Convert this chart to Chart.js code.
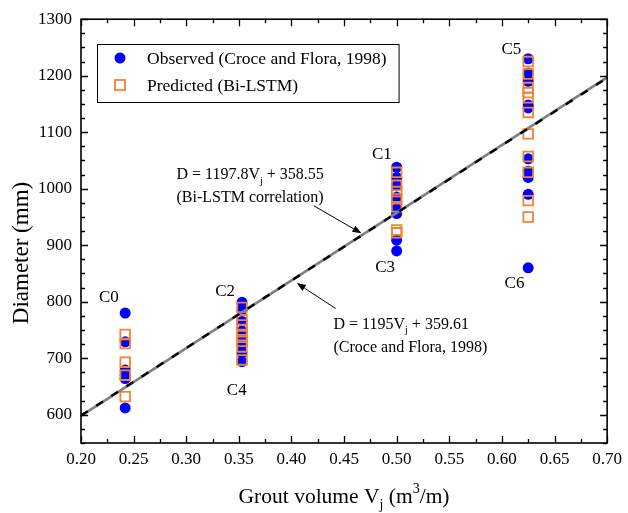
<!DOCTYPE html>
<html>
<head>
<meta charset="utf-8">
<script src="https://cdn.jsdelivr.net/npm/chart.js@4.4.1/dist/chart.umd.min.js"></script>
<style>
  html, body { margin: 0; padding: 0; background: #fff; }
  #wrap { position: relative; width: 628px; height: 513px; }
</style>
</head>
<body>
<div id="wrap"><canvas id="chart" width="628" height="513"></canvas></div>
<script>
// axis ticks
const xTicks = [0.20, 0.25, 0.30, 0.35, 0.40, 0.45, 0.50, 0.55, 0.60, 0.65, 0.70];
const yTicks = [600, 700, 800, 900, 1000, 1100, 1200, 1300];

// grout volume of each column of specimens
const columnX = [0.242, 0.353, 0.500, 0.625];

// observed diameters (Croce and Flora, 1998)
const observedC0 = [780, 729, 679, 670, 664, 612];
const observedC2C4 = [799, 785, 765, 748, 735, 722, 710, 694];
const observedC1C3 = [1038, 1020, 1005, 985, 965, 956, 909, 890];
const observedC5C6 = [1230, 1205, 1190, 1148, 1143, 1053, 1031, 1020, 990, 860];

// predicted diameters (Bi-LSTM)
const predictedC0 = [742, 726, 693, 670, 632];
const predictedC2C4 = [790, 768, 759, 750, 740, 730, 720, 697];
const predictedC1C3 = [1029, 1006, 995, 982, 968, 927, 922];
const predictedC5C6 = [1225, 1203, 1179, 1170, 1161, 1135, 1097, 1057, 1029, 979, 950];

// fitted lines, end points at the axis limits
const fitX = [0.2, 0.7];
const bilstmFitY = [598.1, 1197.0];
const croceFitY = [598.6, 1196.1];

const observedCols = [observedC0, observedC2C4, observedC1C3, observedC5C6];
const predictedCols = [predictedC0, predictedC2C4, predictedC1C3, predictedC5C6];

function toPoints(cols) {
    const pts = [];
    cols.forEach((col, i) => col.forEach(v => pts.push({ x: columnX[i], y: v })));
    return pts;
}

const SERIF = "'Liberation Serif', 'Times New Roman', serif";
Chart.defaults.font.family = SERIF;
Chart.defaults.color = '#000';

const groupLabels = [
    { text: 'C0', x: 0.2265, y: 807 },
    { text: 'C2', x: 0.337, y: 818 },
    { text: 'C4', x: 0.348, y: 642 },
    { text: 'C1', x: 0.486, y: 1060 },
    { text: 'C3', x: 0.489, y: 861 },
    { text: 'C5', x: 0.609, y: 1246 },
    { text: 'C6', x: 0.612, y: 833 }
];

const notes = [
    { x: 0.2907, y: 1024, lines: [
        [{ t: 'D = 1197.8V' }, { t: 'j', sub: true }, { t: ' + 358.55' }],
        [{ t: '(Bi-LSTM correlation)' }]
    ], arrow: [0.4212, 970, 0.4665, 921] },
    { x: 0.440, y: 760, lines: [
        [{ t: 'D = 1195V' }, { t: 'j', sub: true }, { t: ' + 359.61' }],
        [{ t: '(Croce and Flora, 1998)' }]
    ], arrow: [0.442, 788, 0.4051, 833] }
];

function drawRich(ctx, parts, x, y, size, align) {
    const small = Math.round(size * 0.65);
    let w = 0;
    parts.forEach(p => {
        ctx.font = (p.sub || p.sup ? small : size) + 'px ' + SERIF;
        w += ctx.measureText(p.t).width;
    });
    let cx = align === 'center' ? x - w / 2 : x;
    ctx.textAlign = 'left';
    ctx.textBaseline = 'middle';
    parts.forEach(p => {
        const s = p.sub || p.sup ? small : size;
        ctx.font = s + 'px ' + SERIF;
        const dy = p.sub ? size * 0.38 : p.sup ? -size * 0.35 : 0;
        ctx.fillText(p.t, cx, y + dy);
        cx += ctx.measureText(p.t).width;
    });
}

function arrow(ctx, x1, y1, x2, y2) {
    const ang = Math.atan2(y2 - y1, x2 - x1);
    const len = 9, half = 3.5;
    ctx.beginPath();
    ctx.moveTo(x1, y1);
    ctx.lineTo(x2 - Math.cos(ang) * len, y2 - Math.sin(ang) * len);
    ctx.stroke();
    ctx.beginPath();
    ctx.moveTo(x2, y2);
    ctx.lineTo(x2 - Math.cos(ang) * len - Math.sin(ang) * half, y2 - Math.sin(ang) * len + Math.cos(ang) * half);
    ctx.lineTo(x2 - Math.cos(ang) * len + Math.sin(ang) * half, y2 - Math.sin(ang) * len - Math.cos(ang) * half);
    ctx.closePath();
    ctx.fill();
}

const decor = {
    id: 'decor',
    afterDatasetsDraw(chart) {
        const { ctx, chartArea: a, scales: { x, y } } = chart;
        ctx.save();
        ctx.strokeStyle = '#000';
        ctx.fillStyle = '#000';

        // inward ticks on all four sides
        ctx.lineWidth = 1.3;
        ctx.beginPath();
        for (let i = 0; i <= 20; i++) {
            const px = Math.round(x.getPixelForValue(0.2 + i * 0.025)) + 0.5;
            const len = i % 2 === 0 ? 7 : 4;
            ctx.moveTo(px, a.bottom); ctx.lineTo(px, a.bottom - len);
            ctx.moveTo(px, a.top); ctx.lineTo(px, a.top + len);
        }
        for (let v = 550; v <= 1300; v += 25) {
            const py = Math.round(y.getPixelForValue(v)) + 0.5;
            const len = v % 100 === 0 ? 7 : 4;
            ctx.moveTo(a.left, py); ctx.lineTo(a.left + len, py);
            ctx.moveTo(a.right, py); ctx.lineTo(a.right - len, py);
        }
        ctx.stroke();

        // frame
        ctx.lineWidth = 1.6;
        ctx.strokeRect(a.left, a.top, a.right - a.left, a.bottom - a.top);

        // group labels
        ctx.font = '17px ' + SERIF;
        ctx.textAlign = 'center';
        ctx.textBaseline = 'middle';
        groupLabels.forEach(l => ctx.fillText(l.text, x.getPixelForValue(l.x), y.getPixelForValue(l.y)));

        // equations and arrows
        ctx.lineWidth = 1;
        notes.forEach(n => {
            const nx = x.getPixelForValue(n.x), ny = y.getPixelForValue(n.y);
            n.lines.forEach((ln, k) => drawRich(ctx, ln, nx, ny + k * 23, 16, 'left'));
            const [ax1, ay1, ax2, ay2] = n.arrow;
            arrow(ctx, x.getPixelForValue(ax1), y.getPixelForValue(ay1), x.getPixelForValue(ax2), y.getPixelForValue(ay2));
        });

        // legend
        const ds = chart.data.datasets;
        const items = [ds[3], ds[2]];
        const lx = 97, ly = 44, rowH = 27;
        ctx.font = '17.5px ' + SERIF;
        let tw = 0;
        items.forEach(d => { tw = Math.max(tw, ctx.measureText(d.label).width); });
        const bw = 50 + tw + 12, bh = 58;
        ctx.fillStyle = '#fff';
        ctx.fillRect(lx, ly, bw, bh);
        ctx.lineWidth = 1;
        ctx.strokeStyle = '#000';
        ctx.strokeRect(lx + 0.5, ly + 0.5, bw, bh);
        items.forEach((d, k) => {
            const cy = ly + 14 + k * rowH;
            const cx = lx + 23;
            if (d.pointStyle === 'rect') {
                ctx.strokeStyle = d.borderColor;
                ctx.lineWidth = d.borderWidth;
                ctx.strokeRect(cx - 5, cy - 5, 10, 10);
            } else {
                ctx.fillStyle = d.backgroundColor;
                ctx.beginPath();
                ctx.arc(cx, cy, d.pointRadius, 0, Math.PI * 2);
                ctx.fill();
            }
            ctx.fillStyle = '#000';
            ctx.textAlign = 'left';
            ctx.textBaseline = 'middle';
            ctx.font = '17.5px ' + SERIF;
            ctx.fillText(d.label, lx + 50, cy + 1);
        });

        // axis titles
        ctx.fillStyle = '#000';
        drawRich(ctx, [{ t: 'Grout volume V' }, { t: 'j', sub: true }, { t: ' (m' }, { t: '3', sup: true }, { t: '/m)' }],
            (a.left + a.right) / 2, 497, 21.5, 'center');
        ctx.save();
        ctx.translate(22, 253);
        ctx.rotate(-Math.PI / 2);
        drawRich(ctx, [{ t: 'Diameter (mm)' }], 0, 0, 23, 'center');
        ctx.restore();

        ctx.restore();
    }
};

new Chart(document.getElementById('chart'), {
    type: 'scatter',
    data: {
        datasets: [
            {
                label: 'D = 1195Vj + 359.61',
                type: 'line',
                data: fitX.map((v, i) => ({ x: v, y: croceFitY[i] })),
                borderColor: '#000',
                borderWidth: 2.4,
                borderDash: [8, 10],
                pointRadius: 0,
                fill: false
            },
            {
                label: 'D = 1197.8Vj + 358.55',
                type: 'line',
                data: fitX.map((v, i) => ({ x: v, y: bilstmFitY[i] })),
                borderColor: '#808080',
                borderWidth: 2.6,
                pointRadius: 0,
                fill: false
            },
            {
                label: 'Predicted (Bi-LSTM)',
                data: toPoints(predictedCols),
                pointStyle: 'rect',
                pointRadius: 6.8,
                borderColor: '#ef8534',
                borderWidth: 1.8,
                backgroundColor: 'rgba(0,0,0,0)'
            },
            {
                label: 'Observed (Croce and Flora, 1998)',
                data: toPoints(observedCols),
                pointStyle: 'circle',
                pointRadius: 5.5,
                borderWidth: 0,
                backgroundColor: '#0000ff'
            }
        ]
    },
    options: {
        responsive: false,
        animation: false,
        maintainAspectRatio: false,
        layout: { padding: { top: 16, right: 18, left: 0, bottom: 0 } },
        plugins: { legend: { display: false }, tooltip: { enabled: false } },
        scales: {
            x: {
                type: 'linear',
                min: 0.2,
                max: 0.7,
                afterBuildTicks: s => { s.ticks = xTicks.map(v => ({ value: v })); },
                afterFit: s => { s.height = 70; },
                ticks: {
                    callback: v => v.toFixed(2),
                    font: { size: 17 },
                    color: '#000',
                    padding: 6,
                    maxRotation: 0,
                    autoSkip: false
                },
                grid: { display: false, drawTicks: false },
                border: { display: false }
            },
            y: {
                type: 'linear',
                min: 550,
                max: 1300,
                afterBuildTicks: s => { s.ticks = yTicks.map(v => ({ value: v })); },
                afterFit: s => { s.width = 81; },
                ticks: {
                    callback: v => String(v),
                    font: { size: 17 },
                    color: '#000',
                    padding: 9,
                    autoSkip: false
                },
                grid: { display: false, drawTicks: false },
                border: { display: false }
            }
        }
    },
    plugins: [decor]
});
</script>
</body>
</html>
